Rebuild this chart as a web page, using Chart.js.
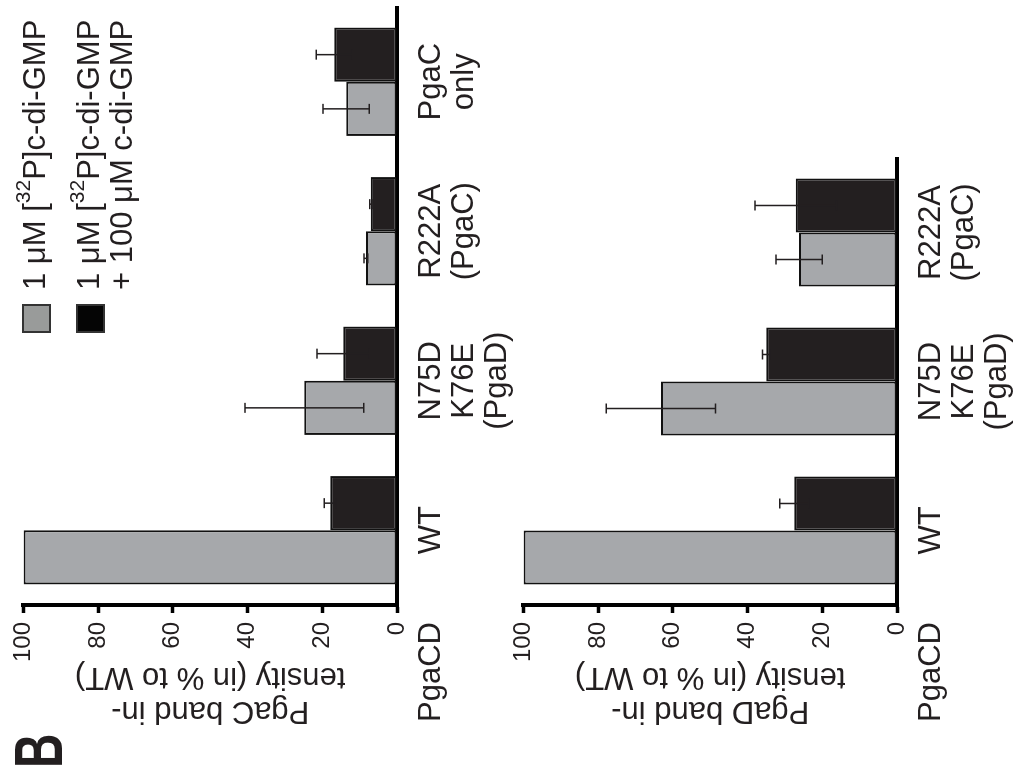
<!DOCTYPE html>
<html lang="en">
<head>
<meta charset="UTF-8">
<title>PgaC / PgaD band intensity</title>
<script src="https://cdn.jsdelivr.net/npm/chart.js"></script>
<style>
  html, body { margin: 0; padding: 0; background: #fff; }
  body { width: 1016px; height: 780px; overflow: hidden; position: relative; }
  /* the figure is laid out upright, then turned a quarter left */
  #figure {
    position: absolute; left: 0; top: 0; width: 780px; height: 1016px;
    transform-origin: 0 0; transform: translate(0, 780px) rotate(-90deg);
    font-family: 'Liberation Sans', Arial, sans-serif; color: #231f20;
  }
  .panel { position: absolute; left: 0; }
  #panelC { top: 0; }
  #panelD { top: 500px; }
  #tag {
    position: absolute; left: 12px; top: 4px;
    font: bold 68px/68px 'Liberation Sans', Arial, sans-serif;
    transform-origin: 0 0; transform: scaleX(0.7);
  }
  #legend { position: absolute; left: 447px; top: 0; }
  .item { position: absolute; left: 0; white-space: nowrap; }
  .swatch { position: absolute; left: 0; top: 0; width: 25px; height: 25px; border: 2px solid #333; }
  .label { position: absolute; left: 43px; top: -4px; font-size: 31px; line-height: 33px; }
  sup { font-size: 21px; line-height: 0; vertical-align: 15px; }
</style>
</head>
<body>
<div id="figure">
  <div class="panel" id="panelC"><canvas id="pgac" width="780" height="520"></canvas></div>
  <div class="panel" id="panelD"><canvas id="pgad" width="780" height="516"></canvas></div>
  <div id="legend"></div>
  <div id="tag">B</div>
</div>

<script>
  // PgaC panel
  const categoriesC = [['WT'], ['N75D', 'K76E', '(PgaD)'], ['R222A', '(PgaC)'], ['PgaC', 'only']];
  const labeledC = [100, 24.8, 8.3, 13.6];
  const labeledErrC = [0, 15.9, 0.5, 6.2];
  const competedC = [17.9, 14.4, 7.0, 16.8];
  const competedErrC = [1.6, 7.0, 0.3, 4.8];

  // PgaD panel
  const categoriesD = [['WT'], ['N75D', 'K76E', '(PgaD)'], ['R222A', '(PgaC)']];
  const labeledD = [100, 63.2, 26.2];
  const labeledErrD = [0, 14.6, 6.2];
  const competedD = [27.5, 35.0, 27.1];
  const competedErrD = [3.9, 1.0, 10.9];

  const valueTicks = [0, 20, 40, 60, 80, 100];
  const titleC = ['PgaC band in-', 'tensity (in % to WT)'];
  const titleD = ['PgaD band in-', 'tensity (in % to WT)'];
  const rowLabel = 'PgaCD';
  const seriesNames = [
    '1 μM [<sup>32</sup>P]c-di-GMP',
    '1 μM [<sup>32</sup>P]c-di-GMP<br>+ 100 μM c-di-GMP'
  ];

  const GRAY = '#a6a8ab';
  const DARK = '#231f20';
  const INK = '#231f20';
  const FONT = "'Liberation Sans', Arial, sans-serif";

  Chart.defaults.font.family = FONT;
  Chart.defaults.color = INK;

  // whiskers from the dataset's errors array
  const errorBars = {
    id: 'errorBars',
    afterDatasetsDraw(chart) {
      const { ctx } = chart;
      const y = chart.scales.y;
      ctx.save();
      ctx.strokeStyle = '#231f20';
      ctx.lineWidth = 1.5;
      chart.data.datasets.forEach((ds, i) => {
        chart.getDatasetMeta(i).data.forEach((bar, j) => {
          const err = ds.errors[j];
          if (!err) return;
          const hi = y.getPixelForValue(ds.data[j] + err);
          const lo = y.getPixelForValue(ds.data[j] - err);
          ctx.beginPath();
          ctx.moveTo(bar.x, hi); ctx.lineTo(bar.x, lo);
          ctx.moveTo(bar.x - 5, hi); ctx.lineTo(bar.x + 5, hi);
          ctx.moveTo(bar.x - 5, lo); ctx.lineTo(bar.x + 5, lo);
          ctx.stroke();
        });
      });
      ctx.restore();
    }
  };

  // "PgaCD" in front of the category labels
  const rowName = {
    id: 'rowName',
    afterDraw(chart) {
      const { ctx, chartArea } = chart;
      ctx.save();
      ctx.font = '31px ' + FONT;
      ctx.fillStyle = INK;
      ctx.textAlign = 'right';
      ctx.textBaseline = 'middle';
      ctx.fillText(rowLabel, chartArea.left - 17, chartArea.bottom + 18 + 16.5);
      ctx.restore();
    }
  };

  function makePanel(id, cats, a, aErr, b, bErr, title, padTop, padRight, xHeight) {
    const bar = { borderColor: '#111', borderWidth: 2, borderSkipped: false, categoryPercentage: 0.725, barPercentage: 1 };
    return new Chart(document.getElementById(id), {
      type: 'bar',
      data: {
        labels: cats,
        datasets: [
          Object.assign({ data: a, errors: aErr, backgroundColor: GRAY }, bar),
          Object.assign({ data: b, errors: bErr, backgroundColor: DARK }, bar)
        ]
      },
      options: {
        responsive: false,
        animation: false,
        events: [],
        layout: { padding: { top: padTop, right: padRight, bottom: 0, left: 0 } },
        plugins: { legend: { display: false }, tooltip: { enabled: false } },
        scales: {
          x: {
            grid: { display: false, drawTicks: false },
            border: { display: true, color: '#000', width: 4 },
            ticks: { color: INK, font: { size: 31, lineHeight: 1.065 }, padding: 18, maxRotation: 0, autoSkip: false },
            afterFit: s => { s.height = xHeight; }
          },
          y: {
            min: 0,
            max: 100,
            afterBuildTicks: ax => { ax.ticks = valueTicks.map(v => ({ value: v })); },
            grid: { display: true, drawOnChartArea: false, drawTicks: true, tickLength: 8, tickWidth: 3.5, tickColor: '#000' },
            border: { display: true, color: '#000', width: 4 },
            ticks: { color: INK, font: { size: 24 }, padding: 9 },
            title: { display: true, text: title, color: INK, font: { size: 31, lineHeight: 1.1 }, padding: { top: 52, bottom: 0 } },
            afterFit: s => { s.width = 175; }
          }
        }
      },
      plugins: [errorBars, rowName]
    });
  }

  const chartC = makePanel('pgac', categoriesC, labeledC, labeledErrC, competedC, competedErrC, titleC, 22, 7, 123);
  const chartD = makePanel('pgad', categoriesD, labeledD, labeledErrD, competedD, competedErrD, titleD, 21, 158, 119);

  // legend in the empty upper right of the PgaC panel
  const legendTops = [22, 76];
  const legend = document.getElementById('legend');
  chartC.data.datasets.forEach((ds, i) => {
    const item = document.createElement('div');
    item.className = 'item';
    item.style.top = legendTops[i] + 'px';
    const sw = document.createElement('div');
    sw.className = 'swatch';
    sw.style.background = i === 0 ? '#999b9a' : '#050505';
    const tx = document.createElement('div');
    tx.className = 'label';
    tx.innerHTML = seriesNames[i];
    item.appendChild(sw);
    item.appendChild(tx);
    legend.appendChild(item);
  });
</script>
</body>
</html>
